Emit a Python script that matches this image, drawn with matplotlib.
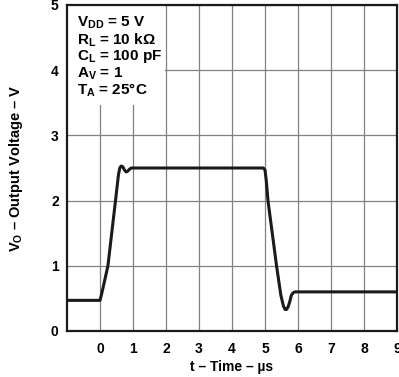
import numpy as np
import matplotlib.pyplot as plt
from matplotlib.patches import Rectangle

"""
Output voltage step response (large-signal pulse response)
"""

# curve
time_us = [-1.0, 0.0, 0.04, 0.1, 0.24, 0.47, 0.56, 0.6, 0.64, 0.69, 0.74, 0.79, 0.84,
           0.89, 0.95, 1.0, 4.95, 5.0, 5.04, 5.09, 5.35, 5.48, 5.56, 5.61, 5.65,
           5.7, 5.75, 5.8, 5.86, 5.92, 9.0]
vout = [0.47, 0.47, 0.55, 0.68, 1.0, 2.0, 2.4, 2.5, 2.53, 2.52, 2.47, 2.44, 2.45,
        2.48, 2.5, 2.5, 2.5, 2.47, 2.3, 2.0, 1.0, 0.55, 0.38, 0.33, 0.33,
        0.37, 0.45, 0.55, 0.59, 0.6, 0.6]

x_ticks = [0, 1, 2, 3, 4, 5, 6, 7, 8, 9]
y_ticks = [0, 1, 2, 3, 4, 5]
conditions = [r"V$_{\mathrm{DD}}$ = 5 V",
              r"R$_{\mathrm{L}}$ = 10 k$\Omega$",
              r"C$_{\mathrm{L}}$ = 100 pF",
              r"A$_{\mathrm{V}}$ = 1",
              r"T$_{\mathrm{A}}$ = 25°C"]

plt.rcParams['font.family'] = ['Liberation Sans', 'DejaVu Sans']
plt.rcParams['mathtext.fontset'] = 'custom'
plt.rcParams['mathtext.rm'] = 'Liberation Sans:bold'
plt.rcParams['mathtext.it'] = 'Liberation Sans:bold'
plt.rcParams['mathtext.bf'] = 'Liberation Sans:bold'

fig = plt.figure(figsize=(3.99, 3.77), dpi=100)
ax = fig.add_axes([67/399, 46/377, 330/399, 326/377])

ax.plot(time_us, vout, color='#1a1a1a', lw=2.2, solid_joinstyle='round', zorder=4)

ax.set_xlim(-1, 9)
ax.set_ylim(0, 5)
ax.set_xticks(x_ticks)
ax.set_yticks(y_ticks)
ax.grid(True, color='#808080', lw=0.9)
ax.set_axisbelow(True)
ax.tick_params(length=0, labelsize=10)
ax.tick_params(axis='x', pad=8)
ax.tick_params(axis='y', pad=6)
for lbl in ax.get_xticklabels() + ax.get_yticklabels():
    lbl.set_fontweight('bold')
for s in ax.spines.values():
    s.set_linewidth(1.6)
    s.set_color('#1a1a1a')

# white panel behind the test conditions
ax.add_patch(Rectangle((-1, 3.47), 2.97, 1.53, facecolor='white', edgecolor='none', zorder=2))
for i, line in enumerate(conditions):
    ax.text(-0.7, 4.72 - i*0.258, line, fontsize=11, fontweight='bold', va='center', zorder=5)

ax.set_xlabel(u"t \u2013 Time \u2013 \u00b5s", fontsize=10, fontweight='bold', labelpad=3)
ax.set_ylabel(r"V$_{\mathrm{O}}$ " + u"\u2013 Output Voltage \u2013 V", fontsize=10.5, fontweight='bold', labelpad=19)

fig.savefig('out.png', dpi=100)
